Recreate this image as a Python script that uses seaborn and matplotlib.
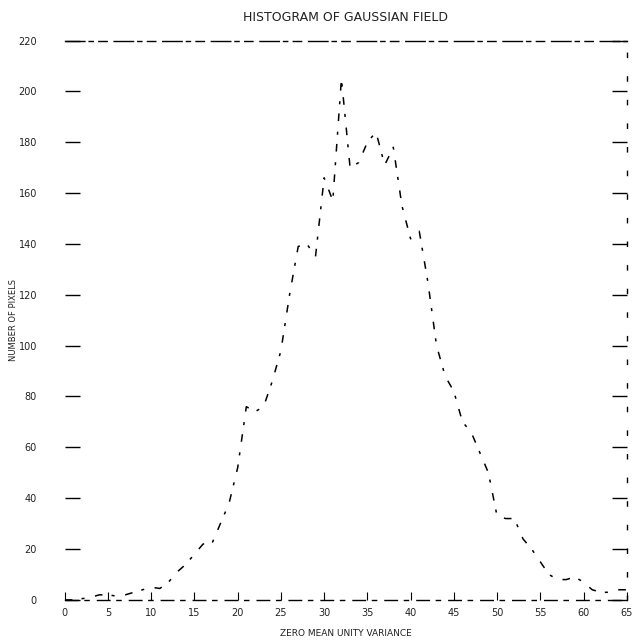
import matplotlib
matplotlib.use("Agg")
import matplotlib.pyplot as plt
import seaborn as sns
import pandas as pd

# Histogram counts of a zero-mean, unit-variance Gaussian field, one value per bin
bins = list(range(0, 66))
counts = [0, 0, 0.5, 1, 2, 2, 1.5, 2, 3, 4,
          5, 4.5, 7, 11, 14, 18, 22, 22, 30, 38,
          52, 76, 74, 76, 86, 98, 120, 139, 140, 135,
          166, 157, 205, 170, 172, 180, 184, 171, 178, 155,
          142, 145, 125, 100, 88, 82, 70, 66, 58, 50,
          33, 32, 32, 24, 20, 15, 10, 8, 8, 9,
          7, 4, 3, 3, 4, 4]

x_ticks = list(range(0, 70, 5))
y_ticks = list(range(0, 240, 20))

title = "HISTOGRAM OF GAUSSIAN FIELD"
x_label = "ZERO MEAN UNITY VARIANCE"
y_label = "NUMBER OF PIXELS"

df = pd.DataFrame({"bin": bins, "count": counts})

sns.set_style("ticks")
plt.rcParams["font.family"] = ["DejaVu Sans"]

ink = "#222222"
fig = plt.figure(figsize=(6.35, 6.43), dpi=100)
ax = fig.add_axes([0.102, 0.067, 0.885, 0.870])

# plotter-style broken strokes
sns.lineplot(data=df, x="bin", y="count", ax=ax, color="black",
             linewidth=1.1, dashes=False)
ax.lines[0].set_dashes((5, 6, 2, 7))

ax.set_xlim(0, 65)
ax.set_ylim(0, 220)
ax.set_xticks(x_ticks)
ax.set_yticks(y_ticks)
ax.set_xticklabels([str(v) for v in x_ticks], fontsize=7, color=ink)
ax.set_yticklabels([str(v) for v in y_ticks], fontsize=7, color=ink)
ax.tick_params(axis="y", direction="in", length=11, width=1.0, pad=20,
               left=True, right=True, labelleft=True, color="black")
ax.tick_params(axis="x", direction="in", length=6, width=0.8, pad=6,
               color="black")

for side, sp in ax.spines.items():
    sp.set_visible(True)
    sp.set_color("black")
    sp.set_linewidth(1.0)
ax.spines["top"].set_linestyle((0, (14, 3, 3, 4, 6, 5)))
ax.spines["bottom"].set_linestyle((0, (9, 5, 3, 6)))
ax.spines["right"].set_linestyle((0, (3, 14)))
ax.spines["left"].set_visible(False)

ax.set_title(title, fontsize=9, pad=14, color=ink)
ax.set_xlabel(x_label, fontsize=6.5, labelpad=8, color=ink)
ax.set_ylabel(y_label, fontsize=6, labelpad=0, color=ink)

fig.savefig("out.png", dpi=100)
